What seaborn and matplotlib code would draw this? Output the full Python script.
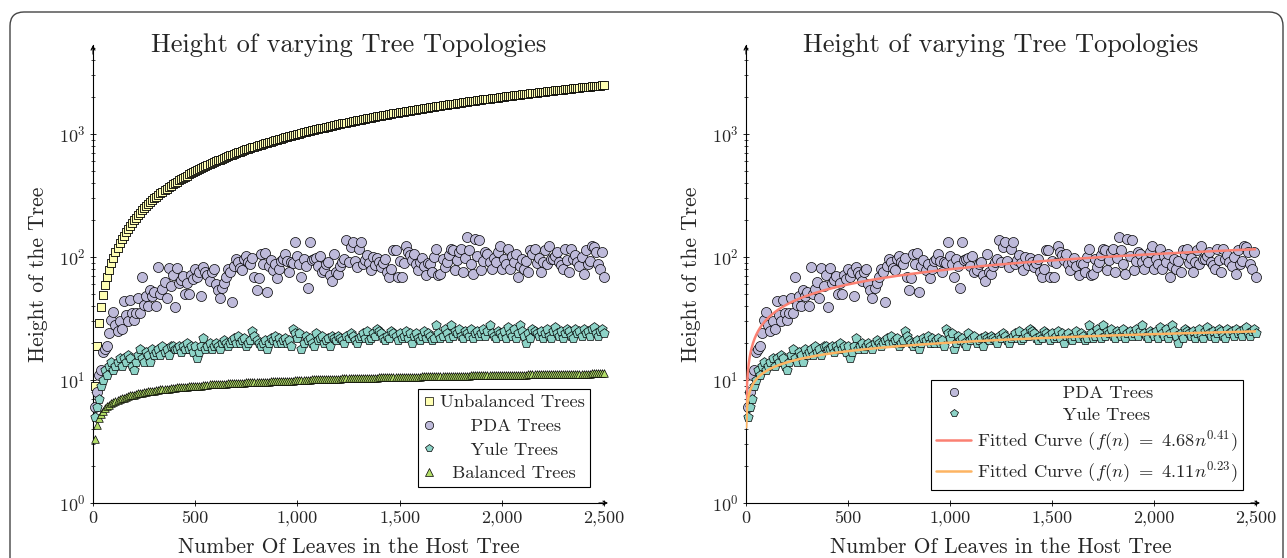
import matplotlib
matplotlib.use("Agg")
import matplotlib.pyplot as plt
import seaborn as sns
import numpy as np
from matplotlib.lines import Line2D
from matplotlib.patches import FancyBboxPatch
from matplotlib.transforms import IdentityTransform
from matplotlib.ticker import FuncFormatter, LogLocator, NullFormatter

# === data ===
leaves = [
    10, 20, 30, 40, 50, 60, 70, 80, 90, 100,
    110, 120, 130, 140, 150, 160, 170, 180, 190, 200,
    210, 220, 230, 240, 250, 260, 270, 280, 290, 300,
    310, 320, 330, 340, 350, 360, 370, 380, 390, 400,
    410, 420, 430, 440, 450, 460, 470, 480, 490, 500,
    510, 520, 530, 540, 550, 560, 570, 580, 590, 600,
    610, 620, 630, 640, 650, 660, 670, 680, 690, 700,
    710, 720, 730, 740, 750, 760, 770, 780, 790, 800,
    810, 820, 830, 840, 850, 860, 870, 880, 890, 900,
    910, 920, 930, 940, 950, 960, 970, 980, 990, 1000,
    1010, 1020, 1030, 1040, 1050, 1060, 1070, 1080, 1090, 1100,
    1110, 1120, 1130, 1140, 1150, 1160, 1170, 1180, 1190, 1200,
    1210, 1220, 1230, 1240, 1250, 1260, 1270, 1280, 1290, 1300,
    1310, 1320, 1330, 1340, 1350, 1360, 1370, 1380, 1390, 1400,
    1410, 1420, 1430, 1440, 1450, 1460, 1470, 1480, 1490, 1500,
    1510, 1520, 1530, 1540, 1550, 1560, 1570, 1580, 1590, 1600,
    1610, 1620, 1630, 1640, 1650, 1660, 1670, 1680, 1690, 1700,
    1710, 1720, 1730, 1740, 1750, 1760, 1770, 1780, 1790, 1800,
    1810, 1820, 1830, 1840, 1850, 1860, 1870, 1880, 1890, 1900,
    1910, 1920, 1930, 1940, 1950, 1960, 1970, 1980, 1990, 2000,
    2010, 2020, 2030, 2040, 2050, 2060, 2070, 2080, 2090, 2100,
    2110, 2120, 2130, 2140, 2150, 2160, 2170, 2180, 2190, 2200,
    2210, 2220, 2230, 2240, 2250, 2260, 2270, 2280, 2290, 2300,
    2310, 2320, 2330, 2340, 2350, 2360, 2370, 2380, 2390, 2400,
    2410, 2420, 2430, 2440, 2450, 2460, 2470, 2480, 2490, 2500,
]

unbalanced = [
    9, 19, 29, 39, 49, 59, 69, 79, 89, 99,
    109, 119, 129, 139, 149, 159, 169, 179, 189, 199,
    209, 219, 229, 239, 249, 259, 269, 279, 289, 299,
    309, 319, 329, 339, 349, 359, 369, 379, 389, 399,
    409, 419, 429, 439, 449, 459, 469, 479, 489, 499,
    509, 519, 529, 539, 549, 559, 569, 579, 589, 599,
    609, 619, 629, 639, 649, 659, 669, 679, 689, 699,
    709, 719, 729, 739, 749, 759, 769, 779, 789, 799,
    809, 819, 829, 839, 849, 859, 869, 879, 889, 899,
    909, 919, 929, 939, 949, 959, 969, 979, 989, 999,
    1009, 1019, 1029, 1039, 1049, 1059, 1069, 1079, 1089, 1099,
    1109, 1119, 1129, 1139, 1149, 1159, 1169, 1179, 1189, 1199,
    1209, 1219, 1229, 1239, 1249, 1259, 1269, 1279, 1289, 1299,
    1309, 1319, 1329, 1339, 1349, 1359, 1369, 1379, 1389, 1399,
    1409, 1419, 1429, 1439, 1449, 1459, 1469, 1479, 1489, 1499,
    1509, 1519, 1529, 1539, 1549, 1559, 1569, 1579, 1589, 1599,
    1609, 1619, 1629, 1639, 1649, 1659, 1669, 1679, 1689, 1699,
    1709, 1719, 1729, 1739, 1749, 1759, 1769, 1779, 1789, 1799,
    1809, 1819, 1829, 1839, 1849, 1859, 1869, 1879, 1889, 1899,
    1909, 1919, 1929, 1939, 1949, 1959, 1969, 1979, 1989, 1999,
    2009, 2019, 2029, 2039, 2049, 2059, 2069, 2079, 2089, 2099,
    2109, 2119, 2129, 2139, 2149, 2159, 2169, 2179, 2189, 2199,
    2209, 2219, 2229, 2239, 2249, 2259, 2269, 2279, 2289, 2299,
    2309, 2319, 2329, 2339, 2349, 2359, 2369, 2379, 2389, 2399,
    2409, 2419, 2429, 2439, 2449, 2459, 2469, 2479, 2489, 2499,
]

pda = [
    6, 8, 11, 12, 17, 18, 19, 24, 31, 36,
    28, 25, 30, 26, 44, 34, 30, 45, 35, 31,
    35, 46, 35, 69, 41, 48, 40, 54, 48, 52,
    40, 83, 50, 55, 63, 46, 81, 58, 71, 39,
    81, 62, 65, 70, 50, 61, 50, 71, 66, 80,
    69, 75, 48, 83, 75, 72, 64, 75, 80, 60,
    54, 46, 56, 62, 69, 80, 75, 43, 85, 97,
    91, 82, 78, 97, 102, 91, 87, 99, 69, 54,
    67, 106, 88, 108, 52, 84, 95, 78, 87, 67,
    80, 93, 97, 106, 93, 76, 91, 89, 132, 102,
    87, 69, 97, 84, 56, 132, 94, 97, 99, 84,
    102, 75, 78, 88, 91, 71, 64, 106, 75, 73,
    85, 91, 97, 137, 91, 120, 133, 93, 83, 117,
    133, 87, 95, 104, 89, 78, 100, 86, 99, 91,
    83, 89, 96, 75, 69, 80, 113, 115, 69, 92,
    69, 89, 124, 110, 103, 95, 106, 87, 78, 91,
    98, 84, 71, 89, 87, 75, 100, 117, 71, 73,
    96, 83, 91, 103, 117, 113, 78, 94, 110, 117,
    75, 98, 145, 113, 88, 73, 141, 102, 137, 78,
    93, 110, 106, 91, 80, 98, 91, 110, 124, 80,
    97, 88, 117, 80, 102, 91, 106, 69, 84, 97,
    80, 93, 75, 113, 106, 117, 90, 99, 75, 91,
    113, 87, 124, 96, 97, 102, 110, 91, 86, 80,
    117, 94, 75, 117, 97, 104, 91, 84, 100, 73,
    113, 88, 93, 124, 120, 110, 87, 80, 110, 69,
]

yule = [
    5, 6, 7, 9, 10, 12, 11, 13, 14, 12,
    13, 14, 15, 13, 15, 14, 16, 15, 13, 12,
    14, 16, 18, 15, 14, 17, 16, 14, 18, 16,
    17, 18, 16, 19, 17, 18, 16, 19, 19, 18,
    18, 19, 17, 19, 18, 20, 18, 19, 17, 19,
    15, 17, 19, 22, 18, 19, 20, 18, 19, 20,
    19, 18, 20, 21, 20, 19, 20, 21, 22, 20,
    23, 20, 21, 22, 19, 20, 21, 25, 23, 21,
    20, 19, 20, 21, 18, 20, 22, 21, 23, 20,
    22, 20, 21, 22, 20, 21, 19, 26, 24, 22,
    24, 18, 20, 23, 21, 22, 20, 19, 24, 21,
    22, 23, 20, 21, 22, 19, 23, 22, 21, 23,
    22, 21, 20, 23, 22, 24, 23, 21, 20, 22,
    23, 24, 22, 25, 21, 22, 24, 23, 26, 25,
    24, 22, 21, 23, 22, 25, 24, 23, 21, 24,
    22, 23, 25, 22, 24, 20, 23, 24, 22, 21,
    23, 25, 22, 24, 23, 21, 22, 28, 24, 22,
    23, 26, 24, 22, 28, 23, 25, 24, 26, 23,
    22, 25, 24, 23, 26, 22, 24, 25, 23, 24,
    26, 23, 25, 28, 24, 23, 22, 25, 24, 23,
    25, 22, 27, 24, 23, 26, 22, 24, 28, 25,
    23, 20, 24, 22, 26, 25, 24, 23, 25, 22,
    24, 26, 23, 22, 25, 27, 24, 23, 25, 22,
    24, 26, 25, 23, 22, 26, 24, 25, 23, 26,
    24, 25, 23, 26, 27, 24, 23, 25, 26, 24,
]

balanced = [
    3.3, 4.3, 4.9, 5.3, 5.6, 5.9, 6.1, 6.3, 6.5, 6.6,
    6.8, 6.9, 7.0, 7.1, 7.2, 7.3, 7.4, 7.5, 7.6, 7.6,
    7.7, 7.8, 7.8, 7.9, 8.0, 8.0, 8.1, 8.1, 8.2, 8.2,
    8.3, 8.3, 8.4, 8.4, 8.5, 8.5, 8.5, 8.6, 8.6, 8.6,
    8.7, 8.7, 8.7, 8.8, 8.8, 8.8, 8.9, 8.9, 8.9, 9.0,
    9.0, 9.0, 9.0, 9.1, 9.1, 9.1, 9.2, 9.2, 9.2, 9.2,
    9.3, 9.3, 9.3, 9.3, 9.3, 9.4, 9.4, 9.4, 9.4, 9.5,
    9.5, 9.5, 9.5, 9.5, 9.6, 9.6, 9.6, 9.6, 9.6, 9.6,
    9.7, 9.7, 9.7, 9.7, 9.7, 9.7, 9.8, 9.8, 9.8, 9.8,
    9.8, 9.8, 9.9, 9.9, 9.9, 9.9, 9.9, 9.9, 10.0, 10.0,
    10.0, 10.0, 10.0, 10.0, 10.0, 10.0, 10.1, 10.1, 10.1, 10.1,
    10.1, 10.1, 10.1, 10.2, 10.2, 10.2, 10.2, 10.2, 10.2, 10.2,
    10.2, 10.3, 10.3, 10.3, 10.3, 10.3, 10.3, 10.3, 10.3, 10.3,
    10.4, 10.4, 10.4, 10.4, 10.4, 10.4, 10.4, 10.4, 10.4, 10.5,
    10.5, 10.5, 10.5, 10.5, 10.5, 10.5, 10.5, 10.5, 10.5, 10.6,
    10.6, 10.6, 10.6, 10.6, 10.6, 10.6, 10.6, 10.6, 10.6, 10.6,
    10.7, 10.7, 10.7, 10.7, 10.7, 10.7, 10.7, 10.7, 10.7, 10.7,
    10.7, 10.7, 10.8, 10.8, 10.8, 10.8, 10.8, 10.8, 10.8, 10.8,
    10.8, 10.8, 10.8, 10.8, 10.9, 10.9, 10.9, 10.9, 10.9, 10.9,
    10.9, 10.9, 10.9, 10.9, 10.9, 10.9, 10.9, 11.0, 11.0, 11.0,
    11.0, 11.0, 11.0, 11.0, 11.0, 11.0, 11.0, 11.0, 11.0, 11.0,
    11.0, 11.0, 11.1, 11.1, 11.1, 11.1, 11.1, 11.1, 11.1, 11.1,
    11.1, 11.1, 11.1, 11.1, 11.1, 11.1, 11.1, 11.2, 11.2, 11.2,
    11.2, 11.2, 11.2, 11.2, 11.2, 11.2, 11.2, 11.2, 11.2, 11.2,
    11.2, 11.2, 11.2, 11.3, 11.3, 11.3, 11.3, 11.3, 11.3, 11.3,
]

# fitted power laws shown in the right legend: f(n) = a * n^b
pda_fit = (4.68, 0.41)
yule_fit = (4.11, 0.23)

x_ticks = [0, 500, 1000, 1500, 2000, 2500]
title = "Height of varying Tree Topologies"
x_label = "Number Of Leaves in the Host Tree"
y_label = "Height of the Tree"

# === style ===
sns.set_style("ticks")
plt.rcParams["font.family"] = "serif"
plt.rcParams["font.serif"] = ["cmr10", "DejaVu Serif"]
plt.rcParams["mathtext.fontset"] = "cm"
plt.rcParams["axes.formatter.use_mathtext"] = True
plt.rcParams["axes.unicode_minus"] = False

pal = sns.color_palette("Set3")
c_unbal = pal[1]   # pale yellow
c_pda = pal[2]     # lavender
c_yule = pal[0]    # teal
c_bal = pal[6]     # green
c_fit_pda = pal[3]
c_fit_yule = pal[5]

fig = plt.figure(figsize=(12.87, 5.58), dpi=100)
W, H = 1287, 558

# rounded frame around the whole picture
frame = FancyBboxPatch((10, -60), 1273, 558 - 12 + 60,
                       boxstyle="round,pad=0,rounding_size=14",
                       transform=IdentityTransform(), fill=False,
                       edgecolor="#444444", linewidth=1.0)
fig.patches.append(frame)

ax_l = fig.add_axes([93 / W, (H - 503) / H, 511 / W, 458 / H])
ax_r = fig.add_axes([746 / W, (H - 503) / H, 510 / W, 458 / H])

y_max = 10 ** ((503 - 45) / 123)


def points(ax, y, marker, color, size, lw=0.5):
    sns.scatterplot(x=leaves, y=y, marker=marker, color=color,
                    edgecolor="black", linewidth=lw, s=size, ax=ax,
                    legend=False, zorder=3, clip_on=False)


def style_axis(ax):
    ax.set_yscale("log")
    ax.set_xlim(0, 2500)
    ax.set_ylim(1, y_max)
    sns.despine(ax=ax)
    for side in ["left", "bottom"]:
        ax.spines[side].set_linewidth(0.8)
        ax.spines[side].set_color("black")
    ax.set_xticks(x_ticks)
    ax.xaxis.set_major_formatter(FuncFormatter(lambda v, p: f"{int(v):,}"))
    ax.yaxis.set_major_locator(LogLocator(base=10, numticks=10))
    ax.yaxis.set_minor_locator(LogLocator(base=10, subs=np.arange(2, 10), numticks=20))
    ax.yaxis.set_minor_formatter(NullFormatter())
    ax.tick_params(axis="both", which="major", direction="inout", length=5,
                   width=0.6, labelsize=13, color="black", pad=3)
    ax.tick_params(axis="y", which="minor", direction="inout", length=3.5,
                   width=0.5, color="black")
    # arrow heads at the ends of the axis lines
    ax.annotate("", xy=(1.008, 0), xytext=(0.99, 0), xycoords="axes fraction",
                arrowprops=dict(arrowstyle="->", lw=0.8, color="black",
                                shrinkA=0, shrinkB=0, mutation_scale=7))
    ax.annotate("", xy=(0, 1.0), xytext=(0, 0.98), xycoords="axes fraction",
                arrowprops=dict(arrowstyle="->", lw=0.8, color="black",
                                shrinkA=0, shrinkB=0, mutation_scale=7))
    ax.text(0.5, 1.0, title, transform=ax.transAxes, ha="center",
            va="center", fontsize=19)
    ax.set_xlabel(x_label, fontsize=15.5, va="center")
    ax.xaxis.set_label_coords(0.5, -(547 - 503) / 458)
    ax.set_ylabel(y_label, fontsize=15.5, va="center")
    ax.yaxis.set_label_coords(-(93 - 38) / 511, 0.5)


# === left panel: all four topologies ===
points(ax_l, unbalanced, "s", c_unbal, 40, lw=0.6)
points(ax_l, pda, "o", c_pda, 52)
points(ax_l, yule, "p", c_yule, 50)
points(ax_l, balanced, "^", c_bal, 30)
style_axis(ax_l)

def mk(marker, color, size):
    return Line2D([], [], ls="none", marker=marker, markersize=size,
                  markerfacecolor=color, markeredgecolor="black",
                  markeredgewidth=0.5)

handles_l = [mk("s", c_unbal, 6), mk("o", c_pda, 6), mk("p", c_yule, 6),
             mk("^", c_bal, 5.5)]
labels_l = ["Unbalanced Trees", "     PDA Trees", "     Yule Trees",
            "  Balanced Trees"]
leg = ax_l.legend(handles_l, labels_l, loc="lower right",
                  bbox_to_anchor=(0.973, 0.035), fontsize=13.3,
                  frameon=True, fancybox=False, edgecolor="black",
                  framealpha=1, handlelength=0.6, handletextpad=0.3,
                  borderpad=0.3, labelspacing=0.42, borderaxespad=0)
leg.get_frame().set_linewidth(0.8)

# === right panel: PDA and Yule with fitted curves ===
points(ax_r, pda, "o", c_pda, 52)
points(ax_r, yule, "p", c_yule, 50)
n_fit = np.linspace(1, 2500, 600)
sns.lineplot(x=n_fit, y=pda_fit[0] * n_fit ** pda_fit[1], color=c_fit_pda,
             lw=1.8, ax=ax_r, zorder=4, estimator=None, sort=False)
sns.lineplot(x=n_fit, y=yule_fit[0] * n_fit ** yule_fit[1], color=c_fit_yule,
             lw=1.8, ax=ax_r, zorder=4, estimator=None, sort=False)
style_axis(ax_r)

handles_r = [mk("o", c_pda, 6), mk("p", c_yule, 6),
             Line2D([], [], color=c_fit_pda, lw=1.8),
             Line2D([], [], color=c_fit_yule, lw=1.8)]
labels_r = ["              PDA Trees", "              Yule Trees",
            r"Fitted Curve ($f(n)\ =\ %.2fn^{%.2f}$)" % pda_fit,
            r"Fitted Curve ($f(n)\ =\ %.2fn^{%.2f}$)" % yule_fit]
leg = ax_r.legend(handles_r, labels_r, loc="lower right",
                  bbox_to_anchor=(0.975, 0.028), fontsize=13.3,
                  frameon=True, fancybox=False, edgecolor="black",
                  framealpha=1, handlelength=1.9, handletextpad=0.3,
                  borderpad=0.3, labelspacing=0.3, borderaxespad=0)
leg.get_frame().set_linewidth(0.8)

fig.savefig("out.png", dpi=100)
plt.close(fig)
